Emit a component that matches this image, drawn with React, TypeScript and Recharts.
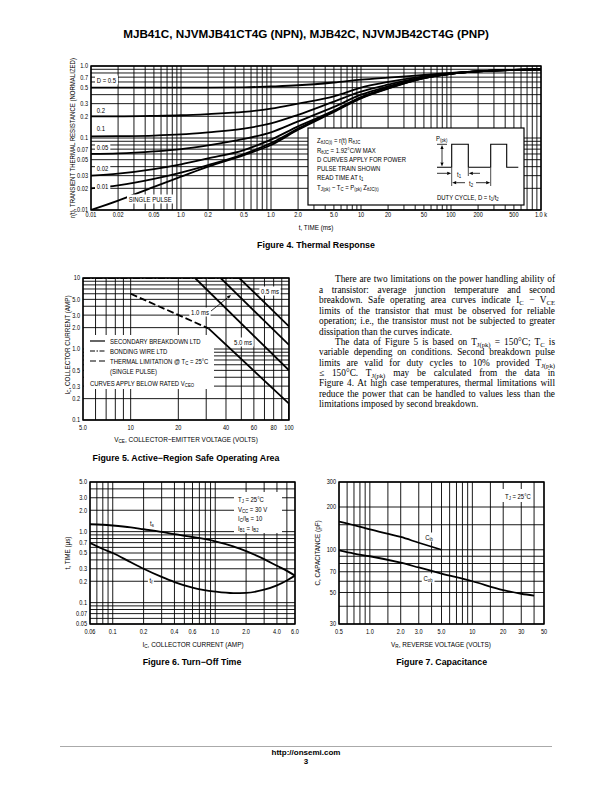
import React from 'react';
import { LineChart, Line, XAxis, YAxis, ReferenceLine, ReferenceArea } from 'recharts';

const NARROW = "'Liberation Sans Narrow','Arial Narrow','Liberation Sans',Arial,sans-serif";
const SANS = "'Liberation Sans',Arial,Helvetica,sans-serif";
const SERIF = "'Liberation Serif','Times New Roman',serif";

// ---------- Figure 4: Thermal response ----------
const f4Time = [0.01, 0.02, 0.05, 0.1, 0.2, 0.5, 1, 2, 5, 10, 20, 50, 100, 200, 500, 1000];
const f4D05 = [0.5, 0.5, 0.5, 0.5, 0.5, 0.505, 0.52, 0.54, 0.59, 0.645, 0.69, 0.75, 0.8, 0.845, 0.88, 0.9];
const f4D02 = [0.2, 0.2, 0.203, 0.207, 0.215, 0.23, 0.255, 0.3, 0.38, 0.5, 0.6, 0.72, 0.79, 0.84, 0.88, 0.9];
const f4D01 = [0.105, 0.106, 0.108, 0.112, 0.12, 0.135, 0.16, 0.21, 0.32, 0.44, 0.55, 0.7, 0.785, 0.84, 0.88, 0.9];
const f4D005 = [0.06, 0.061, 0.065, 0.07, 0.079, 0.097, 0.12, 0.17, 0.27, 0.4, 0.52, 0.69, 0.78, 0.84, 0.88, 0.9];
const f4D002 = [0.03, 0.032, 0.037, 0.043, 0.052, 0.068, 0.095, 0.145, 0.24, 0.37, 0.5, 0.68, 0.78, 0.84, 0.88, 0.9];
const f4D001 = [0.02, 0.022, 0.027, 0.033, 0.042, 0.06, 0.085, 0.135, 0.235, 0.36, 0.49, 0.68, 0.78, 0.84, 0.88, 0.9];
const f4Single = [0.01, 0.0135, 0.021, 0.029, 0.04, 0.058, 0.08, 0.13, 0.23, 0.355, 0.485, 0.68, 0.78, 0.84, 0.88, 0.9];
const f4XGrid = [0.01, 0.02, 0.03, 0.04, 0.05, 0.06, 0.07, 0.08, 0.09, 0.1, 0.2, 0.3, 0.4, 0.5, 0.6, 0.7, 0.8, 0.9, 1, 2, 3, 4, 5, 6, 7, 8, 9, 10, 20, 30, 40, 50, 60, 70, 80, 90, 100, 200, 300, 400, 500, 600, 700, 800, 900, 1000];
const f4YGrid = [0.01, 0.02, 0.03, 0.04, 0.05, 0.06, 0.07, 0.08, 0.09, 0.1, 0.2, 0.3, 0.4, 0.5, 0.6, 0.7, 0.8, 0.9, 1];
const f4XTicks = [0.01, 0.02, 0.05, 0.1, 0.2, 0.5, 1, 2, 5, 10, 20, 50, 100, 200, 500, 1000];
const f4XLabels = ['0.01', '0.02', '0.05', '1.0', '0.2', '0.5', '1.0', '2.0', '5.0', '10', '20', '50', '100', '200', '500', '1.0 k'];
const f4YTicks = [1, 0.7, 0.5, 0.3, 0.2, 0.1, 0.07, 0.05, 0.03, 0.02, 0.01];
const f4YLabels = ['1.0', '0.7', '0.5', '0.3', '0.2', '0.1', '0.07', '0.05', '0.03', '0.02', '0.01'];

// ---------- Figure 5: Safe operating area ----------
const f5BondV = [5, 48.5];
const f5BondI = [10, 10];
const f5ThermV = [10, 31];
const f5ThermI = [6.0, 1.95];
const f5SbV = [31, 100, 100];
const f5SbI = [1.95, 0.17, 0.1];
const f5P05V = [48.5, 100];
const f5P05I = [10, 2.08];
const f5P1V = [37, 100];
const f5P1I = [10, 1.14];
const f5P5V = [25.5, 100];
const f5P5I = [10, 0.5];
const f5XGrid = [5, 6, 7, 8, 9, 10, 20, 30, 40, 50, 60, 70, 80, 90, 100];
const f5YGrid = [0.1, 0.2, 0.3, 0.4, 0.5, 0.6, 0.7, 0.8, 0.9, 1, 2, 3, 4, 5, 6, 7, 8, 9, 10];
const f5XTicks = [5, 10, 20, 40, 60, 80, 100];
const f5XLabels = ['5.0', '10', '20', '40', '60', '80', '100'];
const f5YTicks = [10, 5, 3, 2, 1, 0.5, 0.3, 0.2, 0.1];
const f5YLabels = ['10', '5.0', '3.0', '2.0', '1.0', '0.5', '0.3', '0.2', '0.1'];

// ---------- Figure 6: Turn-off time ----------
const f6Ic = [0.06, 0.08, 0.1, 0.15, 0.2, 0.3, 0.4, 0.6, 1.0, 1.5, 2.0, 3.0, 4.0, 5.0, 6.0];
const f6Ts = [1.27, 1.25, 1.22, 1.15, 1.08, 0.99, 0.92, 0.84, 0.73, 0.62, 0.53, 0.41, 0.33, 0.28, 0.24];
const f6Tf = [0.69, 0.57, 0.5, 0.37, 0.3, 0.23, 0.195, 0.163, 0.143, 0.136, 0.137, 0.152, 0.175, 0.205, 0.24];
const f6XGrid = [0.06, 0.07, 0.08, 0.09, 0.1, 0.2, 0.3, 0.4, 0.5, 0.6, 0.7, 0.8, 0.9, 1, 2, 3, 4, 5, 6];
const f6YGrid = [0.05, 0.06, 0.07, 0.08, 0.09, 0.1, 0.2, 0.3, 0.4, 0.5, 0.6, 0.7, 0.8, 0.9, 1, 2, 3, 4, 5];
const f6XTicks = [0.06, 0.1, 0.2, 0.4, 0.6, 1, 2, 4, 6];
const f6XLabels = ['0.06', '0.1', '0.2', '0.4', '0.6', '1.0', '2.0', '4.0', '6.0'];
const f6YTicks = [5, 3, 2, 1, 0.7, 0.5, 0.3, 0.2, 0.1, 0.07, 0.05];
const f6YLabels = ['5.0', '3.0', '2.0', '1.0', '0.7', '0.5', '0.3', '0.2', '0.1', '0.07', '0.05'];

// ---------- Figure 7: Capacitance ----------
const f7CibV = [0.5, 0.7, 1, 2, 3, 5];
const f7Cib = [158, 149, 139, 123, 112, 100];
const f7CobV = [0.5, 0.7, 1, 2, 3, 5, 10, 20, 30, 40];
const f7Cob = [99, 94, 90, 81, 75, 68, 60, 52, 49, 47.5];
const f7XGrid = [0.5, 0.6, 0.7, 0.8, 0.9, 1, 1.5, 2, 3, 4, 5, 6, 7, 8, 9, 10, 15, 20, 30, 40, 50];
const f7YGrid = [30, 40, 50, 60, 70, 80, 90, 100, 150, 200, 300];
const f7XTicks = [0.5, 1, 2, 3, 5, 10, 20, 30, 50];
const f7XLabels = ['0.5', '1.0', '2.0', '3.0', '5.0', '10', '20', '30', '50'];
const f7YTicks = [300, 200, 100, 70, 50, 30];
const f7YLabels = ['300', '200', '100', '70', '50', '30'];

type Pt = { x: number; y: number };
const zip = (xs: number[], ys: number[]): Pt[] => xs.map((x, i) => ({ x, y: ys[i] }));

type Series = { data: Pt[]; dash?: string; width?: number; curve?: 'monotone' | 'linear' };

const findLabel = (ticks: number[], labels: string[], v: number) => {
  const i = ticks.findIndex((t) => Math.abs(t - v) <= 1e-9 * Math.max(1, Math.abs(t)));
  return i >= 0 ? labels[i] : '';
};

const TICK_SX = 0.8;

type PlotProps = {
  x0: number; y0: number; w: number; h: number;
  xDomain: [number, number]; yDomain: [number, number];
  xGrid: number[]; yGrid: number[];
  xTicks: number[]; xLabels: string[]; yTicks: number[]; yLabels: string[];
  series: Series[]; xGap: number; yGap: number;
};

function LogPlot(p: PlotProps) {
  const YW = 40, XH = 20, MT = 4, MR = 16;
  const xTick = (props: any) => (
    <text transform={`translate(${props.x},${props.y}) scale(${TICK_SX},1)`} x={0} y={0} dy="0.71em"
      textAnchor="middle" fontSize={7} fontFamily={NARROW} fill="#000">
      {findLabel(p.xTicks, p.xLabels, props.payload.value)}
    </text>
  );
  const yTick = (props: any) => (
    <text transform={`translate(${props.x},${props.y}) scale(${TICK_SX},1)`} x={0} y={0} dy="0.35em"
      textAnchor="end" fontSize={7} fontFamily={NARROW} fill="#000">
      {findLabel(p.yTicks, p.yLabels, props.payload.value)}
    </text>
  );
  return (
    <div style={{ position: 'absolute', left: p.x0 - YW, top: p.y0 - MT }}>
      <LineChart width={YW + p.w + MR} height={MT + p.h + XH} margin={{ top: MT, right: MR, bottom: 0, left: 0 }}>
        <XAxis type="number" dataKey="x" scale="log" domain={p.xDomain} allowDataOverflow ticks={p.xTicks} interval={0}
          tickLine={false} axisLine={false} height={XH} tickSize={0} tickMargin={p.xGap} tick={xTick} />
        <YAxis type="number" dataKey="y" scale="log" domain={p.yDomain} allowDataOverflow ticks={p.yTicks} interval={0}
          tickLine={false} axisLine={false} width={YW} tickSize={0} tickMargin={p.yGap} tick={yTick} />
        {p.xGrid.map((v) => (
          <ReferenceLine key={'gx' + v} x={v} stroke="#000" strokeWidth={0.9} ifOverflow="visible" />
        ))}
        {p.yGrid.map((v) => (
          <ReferenceLine key={'gy' + v} y={v} stroke="#000" strokeWidth={0.9} ifOverflow="visible" />
        ))}
        <ReferenceArea x1={p.xDomain[0]} x2={p.xDomain[1]} y1={p.yDomain[0]} y2={p.yDomain[1]}
          fill="none" fillOpacity={0} stroke="#000" strokeWidth={1.4} ifOverflow="visible" />
        {p.series.map((s, i) => (
          <Line key={'s' + i} data={s.data} dataKey="y" type={s.curve || 'monotone'} stroke="#000"
            strokeWidth={s.width || 1.8} strokeDasharray={s.dash} dot={false} activeDot={false}
            isAnimationActive={false} />
        ))}
      </LineChart>
    </div>
  );
}

const Sub = ({ children }: { children: React.ReactNode }) => (
  <span style={{ fontSize: '0.72em', verticalAlign: '-0.3em', lineHeight: 0 }}>{children}</span>
);

type TProps = {
  x: number; y: number; children: React.ReactNode; anchor?: 'start' | 'middle' | 'end';
  size?: number; font?: string; bold?: boolean; bg?: boolean; rotate?: boolean; sx?: number;
};
const T = ({ x, y, children, anchor = 'start', size = 7, font = NARROW, bold = false, bg = false, rotate = false, sx = 0.85 }: TProps) => {
  const tx = rotate ? '-50%' : anchor === 'middle' ? '-50%' : anchor === 'end' ? '-100%' : '0';
  const origin = rotate || anchor === 'middle' ? '50% 50%' : anchor === 'end' ? '100% 50%' : '0 50%';
  return (
    <div style={{
      position: 'absolute', left: x, top: y, whiteSpace: 'nowrap', lineHeight: 1, fontSize: size,
      fontFamily: font, fontWeight: bold ? 700 : 400, color: '#000',
      background: bg ? '#fff' : 'transparent', padding: bg ? '1px 2px' : 0,
      transformOrigin: origin,
      transform: `translate(${tx},-50%)${rotate ? ' rotate(-90deg)' : ''} scaleX(${sx})`,
    }}>{children}</div>
  );
};

const paraLines: { x: number; y: number; last?: boolean; content: React.ReactNode }[] = [
  { x: 335, y: 279, content: 'There are two limitations on the power handling ability of' },
  { x: 319, y: 289.7, content: 'a transistor: average junction temperature and second' },
  { x: 319, y: 300, content: <>breakdown. Safe operating area curves indicate I<Sub>C</Sub> − V<Sub>CE</Sub></> },
  { x: 319, y: 310.7, content: 'limits of the transistor that must be observed for reliable' },
  { x: 319, y: 321, content: 'operation; i.e., the transistor must not be subjected to greater' },
  { x: 319, y: 331.7, last: true, content: 'dissipation than the curves indicate.' },
  { x: 335, y: 341.7, content: <>The data of Figure 5 is based on T<Sub>J(pk)</Sub> = 150°C; T<Sub>C</Sub> is</> },
  { x: 319, y: 352.3, content: 'variable depending on conditions. Second breakdown pulse' },
  { x: 319, y: 362.7, content: <>limits are valid for duty cycles to 10% provided T<Sub>J(pk)</Sub></> },
  { x: 319, y: 372.7, content: <>≤ 150°C.  T<Sub>J(pk)</Sub> may be calculated from the data in</> },
  { x: 319, y: 383.3, content: 'Figure 4. At high case temperatures, thermal limitations will' },
  { x: 319, y: 394, content: 'reduce the power that can be handled to values less than the' },
  { x: 319, y: 404.3, last: true, content: 'limitations imposed by second breakdown.' },
];

const Arrow = ({ x1, y1, x2, y2 }: { x1: number; y1: number; x2: number; y2: number }) => {
  const a = Math.atan2(y2 - y1, x2 - x1);
  const L = 4, W = 1.6;
  const bx = x2 - L * Math.cos(a), by = y2 - L * Math.sin(a);
  const px = -Math.sin(a) * W, py = Math.cos(a) * W;
  return (
    <g>
      <line x1={x1} y1={y1} x2={bx} y2={by} stroke="#000" strokeWidth={0.8} />
      <polygon points={`${x2},${y2} ${bx + px},${by + py} ${bx - px},${by - py}`} fill="#000" />
    </g>
  );
};

export default function App() {
  const f4Series: Series[] = [
    { data: zip(f4Time, f4D05) }, { data: zip(f4Time, f4D02) }, { data: zip(f4Time, f4D01) },
    { data: zip(f4Time, f4D005) }, { data: zip(f4Time, f4D002) }, { data: zip(f4Time, f4D001) },
    { data: zip(f4Time, f4Single) },
  ];
  const f5Series: Series[] = [
    { data: zip(f5BondV, f5BondI), dash: '7 2 1.5 2', width: 2, curve: 'linear' },
    { data: zip(f5ThermV, f5ThermI), dash: '7 3', width: 1.8, curve: 'linear' },
    { data: zip(f5SbV, f5SbI), width: 1.8, curve: 'linear' },
    { data: zip(f5P05V, f5P05I), width: 1.8, curve: 'linear' },
    { data: zip(f5P1V, f5P1I), width: 1.8, curve: 'linear' },
    { data: zip(f5P5V, f5P5I), width: 1.8, curve: 'linear' },
  ];
  const f6Series: Series[] = [{ data: zip(f6Ic, f6Ts) }, { data: zip(f6Ic, f6Tf) }];
  const f7Series: Series[] = [{ data: zip(f7CibV, f7Cib) }, { data: zip(f7CobV, f7Cob) }];

  return (
    <div style={{ position: 'absolute', left: 0, top: 0, width: 612, height: 792, background: '#fff', overflow: 'hidden' }}>
      <T x={306} y={34} anchor="middle" size={11.7} font={SANS} bold sx={1}>
        MJB41C, NJVMJB41CT4G (NPN), MJB42C, NJVMJB42CT4G (PNP)
      </T>

      <LogPlot x0={91} y0={66} w={450} h={144} xDomain={[0.01, 1000]} yDomain={[0.01, 1]}
        xGrid={f4XGrid} yGrid={f4YGrid} xTicks={f4XTicks} xLabels={f4XLabels} yTicks={f4YTicks} yLabels={f4YLabels}
        series={f4Series} xGap={2} yGap={3} />
      <LogPlot x0={83} y0={278} w={206} h={142} xDomain={[5, 100]} yDomain={[0.1, 10]}
        xGrid={f5XGrid} yGrid={f5YGrid} xTicks={f5XTicks} xLabels={f5XLabels} yTicks={f5YTicks} yLabels={f5YLabels}
        series={f5Series} xGap={5} yGap={3} />
      <LogPlot x0={90} y0={482} w={205} h={142} xDomain={[0.06, 6]} yDomain={[0.05, 5]}
        xGrid={f6XGrid} yGrid={f6YGrid} xTicks={f6XTicks} xLabels={f6XLabels} yTicks={f6YTicks} yLabels={f6YLabels}
        series={f6Series} xGap={5} yGap={3} />
      <LogPlot x0={339} y0={482} w={205} h={142} xDomain={[0.5, 50]} yDomain={[30, 300]}
        xGrid={f7XGrid} yGrid={f7YGrid} xTicks={f7XTicks} xLabels={f7XLabels} yTicks={f7YTicks} yLabels={f7YLabels}
        series={f7Series} xGap={5} yGap={3} />

      <svg width={612} height={792} style={{ position: 'absolute', left: 0, top: 0, pointerEvents: 'none' }}>
        {/* Figure 4 inset */}
        <rect x={308} y={128} width={216} height={77} fill="#fff" stroke="#000" strokeWidth={1.2} />
        <polyline points="437,167.3 451.7,167.3 451.7,144.3 468.3,144.3 468.3,167.3 490.7,167.3 490.7,144.3 506.7,144.3 506.7,167.3 518.3,167.3"
          fill="none" stroke="#000" strokeWidth={1.1} />
        <line x1={437} y1={144.3} x2={447} y2={144.3} stroke="#000" strokeWidth={0.8} />
        <Arrow x1={442} y1={156} x2={442} y2={145} />
        <Arrow x1={442} y1={156} x2={442} y2={166.5} />
        <line x1={451.7} y1={168} x2={451.7} y2={186} stroke="#000" strokeWidth={0.7} />
        <line x1={468.3} y1={168} x2={468.3} y2={176} stroke="#000" strokeWidth={0.7} />
        <line x1={490.7} y1={168} x2={490.7} y2={186} stroke="#000" strokeWidth={0.7} />
        <Arrow x1={437} y1={173.3} x2={451.2} y2={173.3} />
        <Arrow x1={480} y1={173.3} x2={468.8} y2={173.3} />
        <Arrow x1={465} y1={182.7} x2={452.2} y2={182.7} />
        <Arrow x1={476} y1={182.7} x2={490.2} y2={182.7} />
        {/* Figure 5 legend area and arrow */}
        <rect x={84} y={335} width={130} height={54} fill="#fff" />
        <line x1={90} y1={341} x2={105} y2={341} stroke="#000" strokeWidth={1.2} />
        <line x1={90} y1={351} x2={105} y2={351} stroke="#000" strokeWidth={1.2} strokeDasharray="5 1.5 1.5 1.5" />
        <line x1={90} y1={361} x2={105} y2={361} stroke="#000" strokeWidth={1.2} strokeDasharray="6 3" />
        <Arrow x1={211} y1={311} x2={231} y2={295} />
        {/* Figure 6 and 7 legend boxes */}
        <rect x={234} y={492} width={48} height={41} fill="#fff" />
        <rect x={502} y={489} width={30} height={13} fill="#fff" />
        {/* Footer rule */}
        <line x1={60} y1={746.5} x2={552} y2={746.5} stroke="#aaa" strokeWidth={1} />
      </svg>

      {/* Figure 4 texts */}
      <T x={72} y={138} anchor="middle" rotate sx={0.86}>r(t), TRANSIENT THERMAL RESISTANCE (NORMALIZED)</T>
      <T x={316} y={227} anchor="middle" sx={0.9}>t, TIME (ms)</T>
      <T x={316} y={245} anchor="middle" size={8.8} font={SANS} bold sx={1}>Figure 4. Thermal Response</T>
      <T x={95} y={80.3} bg>D = 0.5</T>
      <T x={95} y={109.5} bg>0.2</T>
      <T x={95} y={128} bg>0.1</T>
      <T x={95} y={146.5} bg>0.05</T>
      <T x={95} y={167.5} bg>0.02</T>
      <T x={95} y={186} bg>0.01</T>
      <T x={127} y={199} bg>SINGLE PULSE</T>
      <T x={317} y={140}>Z<Sub>θJC(t)</Sub> = r(t) R<Sub>θJC</Sub></T>
      <T x={317} y={149.5}>R<Sub>θJC</Sub> = 1.92°C/W MAX</T>
      <T x={317} y={159}>D CURVES APPLY FOR POWER</T>
      <T x={317} y={168}>PULSE TRAIN SHOWN</T>
      <T x={317} y={177}>READ TIME AT t<Sub>1</Sub></T>
      <T x={317} y={186.5}>T<Sub>J(pk)</Sub> − T<Sub>C</Sub> = P<Sub>(pk)</Sub> Z<Sub>θJC(t)</Sub></T>
      <T x={436} y={138}>P<Sub>(pk)</Sub></T>
      <T x={458.5} y={174} anchor="middle">t<Sub>1</Sub></T>
      <T x={470.5} y={183} anchor="middle">t<Sub>2</Sub></T>
      <T x={437} y={197}>DUTY CYCLE, D = t<Sub>1</Sub>/t<Sub>2</Sub></T>

      {/* Figure 5 texts */}
      <T x={67} y={345} anchor="middle" rotate sx={0.9}>I<Sub>C</Sub>, COLLECTOR CURRENT (AMP)</T>
      <T x={186} y={439} anchor="middle" sx={0.92}>V<Sub>CE</Sub>, COLLECTOR−EMITTER VOLTAGE (VOLTS)</T>
      <T x={186} y={457.7} anchor="middle" size={8.8} font={SANS} bold sx={1}>Figure 5. Active−Region Safe Operating Area</T>
      <T x={110} y={341}>SECONDARY BREAKDOWN LTD</T>
      <T x={110} y={351}>BONDING WIRE LTD</T>
      <T x={110} y={361}>THERMAL LIMITATION @ T<Sub>C</Sub> = 25°C</T>
      <T x={110} y={371}>(SINGLE PULSE)</T>
      <T x={90} y={383}>CURVES APPLY BELOW RATED V<Sub>CEO</Sub></T>
      <T x={200} y={311.5} anchor="middle" bg>1.0 ms</T>
      <T x={270} y={291} anchor="middle" bg>0.5 ms</T>
      <T x={243} y={342} anchor="middle" bg>5.0 ms</T>

      {/* Paragraph */}
      {paraLines.map((l, i) => (
        <div key={'p' + i} style={{
          position: 'absolute', left: l.x, top: l.y - 5, width: 555 - l.x, fontFamily: SERIF, fontSize: 9.3,
          lineHeight: '10px', whiteSpace: 'nowrap', textAlign: 'justify',
          textAlignLast: l.last ? 'left' : 'justify', color: '#000',
        }}>{l.content}</div>
      ))}

      {/* Figure 6 texts */}
      <T x={67} y={553} anchor="middle" rotate sx={0.9}>t, TIME (μs)</T>
      <T x={193} y={644} anchor="middle" sx={0.92}>I<Sub>C</Sub>, COLLECTOR CURRENT (AMP)</T>
      <T x={192} y={662} anchor="middle" size={8.8} font={SANS} bold sx={1}>Figure 6. Turn−Off Time</T>
      <T x={237.5} y={499}>T<Sub>J</Sub> = 25°C</T>
      <T x={237.5} y={508.5}>V<Sub>CC</Sub> = 30 V</T>
      <T x={237.5} y={518}>I<Sub>C</Sub>/I<Sub>B</Sub> = 10</T>
      <T x={237.5} y={527.5}>I<Sub>B1</Sub> = I<Sub>B2</Sub></T>
      <T x={151.7} y={523.3} anchor="middle" bg>t<Sub>s</Sub></T>
      <T x={151} y={580} anchor="middle" bg>t<Sub>f</Sub></T>

      {/* Figure 7 texts */}
      <T x={317} y={553} anchor="middle" rotate sx={0.9}>C, CAPACITANCE (pF)</T>
      <T x={441} y={644} anchor="middle" sx={0.92}>V<Sub>R</Sub>, REVERSE VOLTAGE (VOLTS)</T>
      <T x={441.7} y={662} anchor="middle" size={8.8} font={SANS} bold sx={1}>Figure 7. Capacitance</T>
      <T x={505} y={495.7}>T<Sub>J</Sub> = 25°C</T>
      <T x={429} y={536.7} anchor="middle" bg>C<Sub>ib</Sub></T>
      <T x={428} y={578.3} anchor="middle" bg>C<Sub>ob</Sub></T>

      {/* Footer */}
      <T x={306} y={753} anchor="middle" size={8} font={SANS} bold sx={1}>http://onsemi.com</T>
      <T x={306} y={761.5} anchor="middle" size={8} font={SANS} bold sx={1}>3</T>
    </div>
  );
}
